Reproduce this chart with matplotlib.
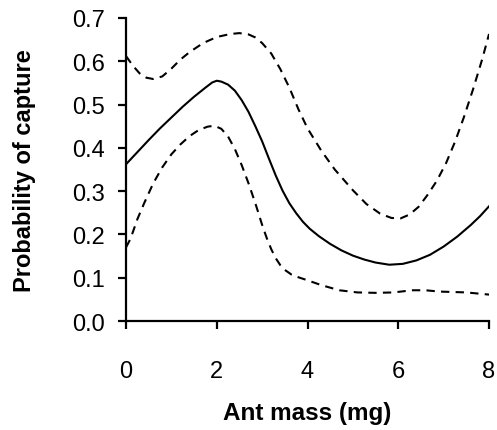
import matplotlib
matplotlib.use("Agg")
import matplotlib.pyplot as plt

plt.rcParams['font.family'] = ['Liberation Sans', 'DejaVu Sans']

# Fitted probability (solid line)
fit_x = [0, 0.25, 0.5, 0.75, 1.0, 1.25, 1.5, 1.75, 1.9, 2.0, 2.1, 2.25, 2.4, 2.55,
         2.7, 2.85, 3.0, 3.15, 3.3, 3.45, 3.6, 3.75, 3.9, 4.05, 4.25, 4.5, 4.75,
         5.0, 5.25, 5.5, 5.8, 6.1, 6.4, 6.7, 7.0, 7.3, 7.6, 7.8, 8.0]
fit_y = [0.362, 0.39, 0.418, 0.445, 0.47, 0.495, 0.518, 0.539, 0.551, 0.555, 0.553,
         0.546, 0.532, 0.51, 0.483, 0.45, 0.415, 0.375, 0.336, 0.301, 0.272, 0.249,
         0.229, 0.213, 0.196, 0.178, 0.163, 0.151, 0.142, 0.135, 0.130, 0.132, 0.14,
         0.153, 0.172, 0.195, 0.222, 0.242, 0.265]

# Upper confidence limit (dashed)
upper_x = [0, 0.15, 0.3, 0.45, 0.6, 0.8, 1.0, 1.2, 1.4, 1.7, 2.0, 2.3, 2.5, 2.7, 2.85,
           3.0, 3.2, 3.4, 3.6, 3.8, 4.0, 4.3, 4.6, 5.0, 5.3, 5.6, 5.85, 6.05, 6.25,
           6.45, 6.65, 6.85, 7.05, 7.25, 7.45, 7.65, 7.85, 8.0]
upper_y = [0.612, 0.59, 0.572, 0.562, 0.559, 0.565, 0.583, 0.604, 0.621, 0.642, 0.656,
           0.663, 0.665, 0.662, 0.655, 0.642, 0.618, 0.582, 0.539, 0.489, 0.445, 0.394,
           0.35, 0.302, 0.27, 0.248, 0.238, 0.237, 0.246, 0.264, 0.292, 0.324, 0.364,
           0.414, 0.472, 0.536, 0.605, 0.663]

# Lower confidence limit (dashed)
lower_x = [0, 0.1, 0.25, 0.4, 0.6, 0.8, 1.0, 1.2, 1.4, 1.6, 1.8, 1.95, 2.1, 2.25, 2.4,
           2.55, 2.7, 2.85, 3.0, 3.1, 3.2, 3.3, 3.4, 3.5, 3.65, 3.8, 4.0, 4.3, 4.7,
           5.1, 5.5, 5.9, 6.3, 6.6, 6.9, 7.5, 8.0]
lower_y = [0.17, 0.19, 0.235, 0.272, 0.318, 0.355, 0.385, 0.408, 0.427, 0.441, 0.449,
           0.451, 0.444, 0.426, 0.397, 0.36, 0.318, 0.272, 0.222, 0.192, 0.166, 0.145,
           0.129, 0.118, 0.107, 0.101, 0.094, 0.083, 0.071, 0.066, 0.065, 0.066, 0.071,
           0.071, 0.068, 0.066, 0.061]

x_ticks = [0, 2, 4, 6, 8]
y_ticks = [0.0, 0.1, 0.2, 0.3, 0.4, 0.5, 0.6, 0.7]
y_ticklabels = ['0.0', '0.1', '0.2', '0.3', '0.4', '0.5', '0.6', '0.7']

fig = plt.figure(figsize=(4.97, 4.31), dpi=100)
ax = fig.add_axes([0.2535, 0.2529, 0.7305, 0.7031])

lw = 1.5
ax.plot(fit_x, fit_y, color='black', lw=lw)
ax.plot(upper_x, upper_y, color='black', lw=lw, dashes=(4, 3))
ax.plot(lower_x, lower_y, color='black', lw=lw, dashes=(4, 3))

ax.set_xlim(0, 8)
ax.set_ylim(0, 0.7)
ax.set_xticks(x_ticks)
ax.set_xticklabels([str(v) for v in x_ticks])
ax.set_yticks(y_ticks)
ax.set_yticklabels(y_ticklabels)

for s in ['top', 'right']:
    ax.spines[s].set_visible(False)
for s in ['left', 'bottom']:
    ax.spines[s].set_linewidth(1.6)

ax.tick_params(axis='both', direction='out', length=6, width=1.6, labelsize=17,
               colors='black')
ax.tick_params(axis='x', pad=22)
ax.tick_params(axis='y', pad=9)

ax.set_xlabel('Ant mass (mg)', fontsize=17.5, fontweight='bold', labelpad=14)
ax.set_ylabel('Probability of capture', fontsize=17, fontweight='bold', labelpad=26)

fig.savefig('out.png', dpi=100)
